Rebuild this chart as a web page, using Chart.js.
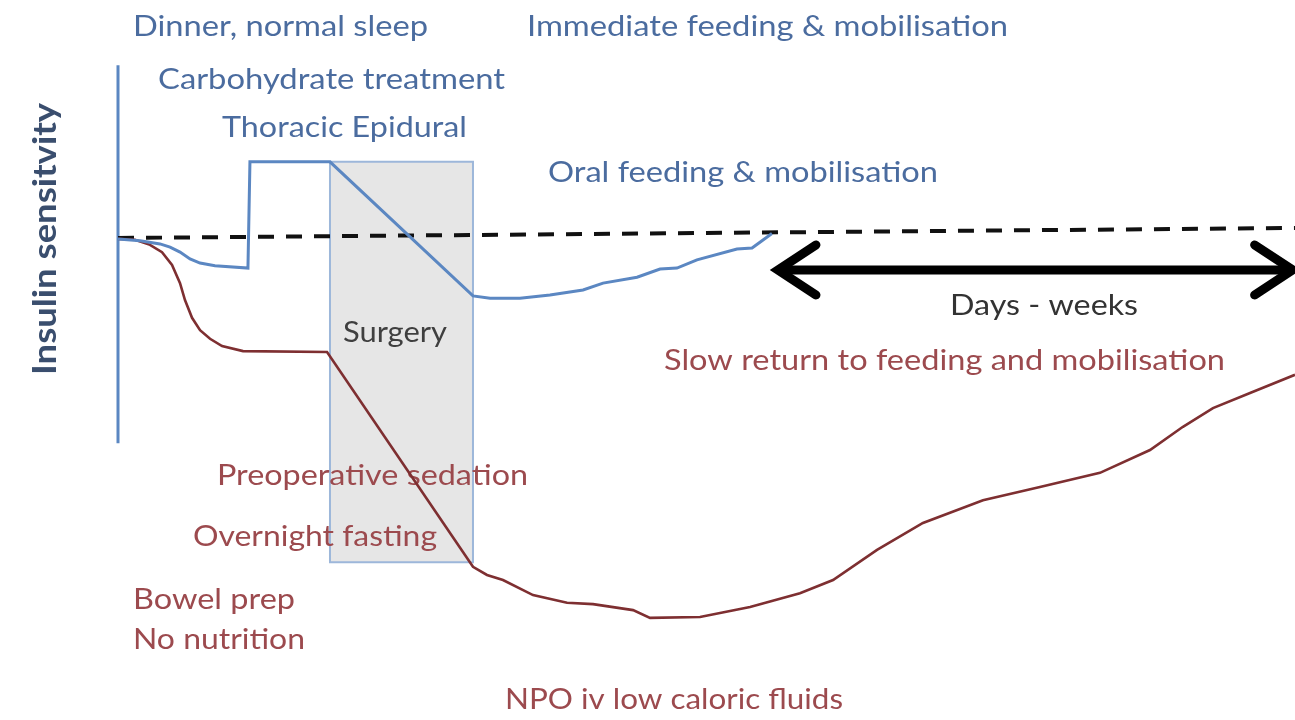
<!DOCTYPE html>
<html>
<head>
<meta charset="utf-8">
<script src="https://cdn.jsdelivr.net/npm/chart.js@4.4.1/dist/chart.umd.min.js"></script>
<style>
html,body{margin:0;padding:0;background:#fff}
#caixa{width:1295px;height:720px;position:relative}
</style>
</head>
<body>
<div id="caixa"><canvas id="grafico"></canvas></div>
<script>

// eixo x: tempo (escala arbitraria, 0 = vespera da cirurgia, 100 = semanas depois)
// eixo y: sensibilidade a insulina (% do basal)

// protocolo acelerado (linha azul)
const tempoAcel=[0,1.87,3.57,4.42,5.27,6.12,6.97,8.24,11.04,11.21,18.01,30.16,31.61,34.15,36.70,39.51,41.21,44.10,46.05,47.49,49.19,52.59,53.87,55.56]
const sensAcel=[99.8,99.4,98.7,98.0,96.9,95.4,94.5,93.9,93.4,116.7,116.7,87.3,86.8,86.8,87.5,88.6,90.1,91.4,93.2,93.4,95.2,97.6,97.8,101.0]

// cuidado tradicional (linha vermelha)
const tempoTrad=[0,1.44,2.72,3.74,4.59,5.27,5.69,6.29,6.97,7.82,8.84,10.62,17.76,30.16,31.35,32.71,35.26,38.15,40.36,43.76,45.20,49.45,53.70,57.94,60.75,64.49,68.39,73.49,78.33,83.43,87.68,90.48,93.03,96.18,100]
const sensTrad=[99.8,99.6,98.5,96.9,94.1,90.1,86.4,82.5,79.8,77.9,76.3,75.2,75.0,27.9,26.1,25.0,21.7,20.0,19.7,18.4,16.7,16.9,19.1,22.1,25.0,31.6,37.5,42.5,45.4,48.5,53.5,58.6,62.7,66.0,70.0]

// linha basal tracejada
const tempoBase=[0,100]
const sensBase=[100,102.2]

// bloco da cirurgia
const tempoCirurgia=[18.01,30.16]
const sensCirurgia=[28.9,116.7]

// eixo vertical desenhado
const tempoEixo=[0,0]
const sensEixo=[55,137.9]

// seta "Days - weeks"
const tempoSeta=[56.07,99.8]
const sensSeta=[93,93]

const azul="#5b87c2"
const vermelho="#7e2f31"
const textoAzul="#4b6c9f"
const textoVermelho="#9c4a4e"

const textos=[
{t:"Dinner, normal sleep",x:133,y:27,w:295,cor:textoAzul},
{t:"Immediate feeding & mobilisation",x:527,y:27,w:481,cor:textoAzul},
{t:"Carbohydrate treatment",x:158,y:80,w:347,cor:textoAzul},
{t:"Thoracic Epidural",x:222,y:128,w:245,cor:textoAzul},
{t:"Oral feeding & mobilisation",x:548,y:173,w:390,cor:textoAzul},
{t:"Surgery",x:343,y:333,w:104,cor:"#3f3f3f"},
{t:"Days - weeks",x:950,y:306,w:188,cor:"#333333"},
{t:"Slow return to feeding and mobilisation",x:664,y:361,w:561,cor:textoVermelho},
{t:"Preoperative sedation",x:217,y:476,w:311,cor:textoVermelho},
{t:"Overnight fasting",x:193,y:537,w:244,cor:textoVermelho},
{t:"Bowel prep",x:133,y:600,w:162,cor:textoVermelho},
{t:"No nutrition",x:133,y:640,w:172,cor:textoVermelho},
{t:"NPO iv low caloric fluids",x:505,y:700,w:338,cor:textoVermelho}
]

function pares(xs,ys){
return xs.map((x,i)=>({x:x,y:ys[i]}))
}

// fonte tipo Calibri: altura fixa, largura ajustada ao original
function escreve(ctx,txt,x,y,largura,cor,fonte,alinha){
ctx.save()
ctx.font=fonte
let k=largura/ctx.measureText(txt).width
ctx.fillStyle=cor
ctx.textBaseline="middle"
ctx.textAlign=alinha||"left"
ctx.translate(x,y)
ctx.scale(k,1)
ctx.fillText(txt,0,0)
ctx.restore()
}

// textos desenhados logo depois da caixa da cirurgia, antes das linhas
const pluginTextos={
id:"textos",
afterDatasetDraw(chart,args){
if(chart.data.datasets[args.index].label!=="Cirurgia") return
const ctx=chart.ctx
textos.forEach(a=>escreve(ctx,a.t,a.x,a.y,a.w,a.cor,"29px Lato"))
ctx.save()
ctx.translate(45,239)
ctx.rotate(-Math.PI/2)
escreve(ctx,"Insulin sensitvity",0,0,272,"#3a4e6e","bold 33px Lato","center")
ctx.restore()
}
}

const pluginSeta={
id:"seta",
afterDatasetsDraw(chart){
const ctx=chart.ctx
const sx=chart.scales.x
const sy=chart.scales.y
let y=sy.getPixelForValue(sensSeta[0])
let x0=sx.getPixelForValue(tempoSeta[0])
let x1=sx.getPixelForValue(tempoSeta[1])
ctx.save()
ctx.strokeStyle="#000"
ctx.lineWidth=9
ctx.lineCap="round"
ctx.lineJoin="miter"
ctx.beginPath()
ctx.moveTo(x0+38,y-25)
ctx.lineTo(x0,y)
ctx.lineTo(x0+38,y+25)
ctx.moveTo(x1-38,y-25)
ctx.lineTo(x1,y)
ctx.lineTo(x1-38,y+25)
ctx.stroke()
ctx.restore()
}
}

let contornoCaixa=[{x:tempoCirurgia[0],y:sensCirurgia[1]},{x:tempoCirurgia[1],y:sensCirurgia[1]},{x:tempoCirurgia[1],y:sensCirurgia[0]},{x:tempoCirurgia[0],y:sensCirurgia[0]},{x:tempoCirurgia[0],y:sensCirurgia[1]}]

new Chart(document.getElementById("grafico"),{
type:"line",
data:{
datasets:[
{
label:"Acelerado",
data:pares(tempoAcel,sensAcel),
borderColor:azul,
borderWidth:3,
pointRadius:0,
tension:0,
clip:false,
order:1
},
{
label:"Tradicional",
data:pares(tempoTrad,sensTrad),
borderColor:vermelho,
borderWidth:2.6,
pointRadius:0,
tension:0,
clip:false,
order:1
},
{
label:"Basal",
data:pares(tempoBase,sensBase),
borderColor:"#111",
borderWidth:4,
borderDash:[16,12],
pointRadius:0,
clip:false,
order:2
},
{
label:"Eixo",
data:pares(tempoEixo,sensEixo),
borderColor:azul,
borderWidth:3,
pointRadius:0,
clip:false,
order:2
},
{
label:"Seta",
data:pares(tempoSeta,sensSeta),
borderColor:"#000",
borderWidth:9,
pointRadius:0,
clip:false,
order:0
},
{
label:"Cirurgia",
data:contornoCaixa,
borderColor:"#9db7da",
borderWidth:2,
backgroundColor:"#e6e6e6",
fill:"shape",
pointRadius:0,
clip:false,
order:5
}
]
},
options:{
responsive:true,
maintainAspectRatio:false,
animation:false,
layout:{padding:{left:118,right:0,top:10,bottom:26}},
plugins:{
legend:{display:false},
tooltip:{enabled:false}
},
scales:{
x:{type:"linear",min:0,max:100,display:false},
y:{type:"linear",min:0,max:150,display:false}
}
},
plugins:[pluginTextos,pluginSeta]
})

</script>
</body>
</html>
